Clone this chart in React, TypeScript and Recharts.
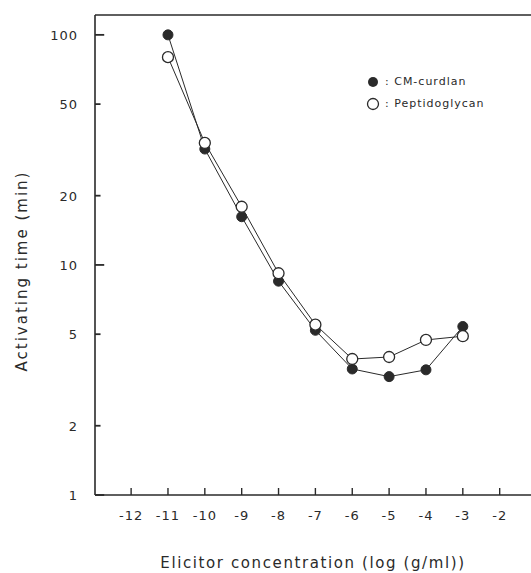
import { LineChart, Line, XAxis, YAxis, ReferenceLine, Legend, Label } from "recharts";

const concentrations = [-11, -10, -9, -8, -7, -6, -5, -4, -3];
const cmCurdlan = [100, 31.9, 16.2, 8.5, 5.2, 3.53, 3.27, 3.5, 5.4];
const peptidoglycan = [80, 33.9, 17.9, 9.2, 5.5, 3.9, 3.98, 4.72, 4.9];

const xTicks = [-12, -11, -10, -9, -8, -7, -6, -5, -4, -3, -2];
const yTicks = [1, 2, 5, 10, 20, 50, 100];
const majorY = [1, 10, 100];

const X_DOMAIN: [number, number] = [-12.98, -1.15];
const Y_DOMAIN: [number, number] = [1, 122];

const INK = "#2a2a2a";
const FONT = "'DejaVu Sans', sans-serif";

const data = concentrations.map((c, i) => ({
  conc: c,
  cm: cmCurdlan[i],
  pg: peptidoglycan[i],
}));

const renderYTick = (props: any) => {
  const { x, y, payload } = props;
  return (
    <text
      key={`yt-${payload.value}`}
      x={x}
      y={y}
      dy={5}
      textAnchor="end"
      fill={INK}
      style={{ fontFamily: FONT, fontSize: 13, letterSpacing: 1 }}
    >
      {payload.value}
    </text>
  );
};

const renderXTick = (props: any) => {
  const { x, y, payload } = props;
  return (
    <text
      key={`xt-${payload.value}`}
      x={x}
      y={Number(y) + 25}
      textAnchor="middle"
      fill={INK}
      style={{ fontFamily: FONT, fontSize: 13, letterSpacing: 1 }}
    >
      {payload.value}
    </text>
  );
};

const renderLegend = () => (
  <div style={{ fontFamily: FONT, fontSize: 11, letterSpacing: 1, color: INK, lineHeight: "22px" }}>
    <div style={{ display: "flex", alignItems: "center" }}>
      <svg width={14} height={14} style={{ marginRight: 5 }}>
        <circle cx={7} cy={7} r={5} fill={INK} />
      </svg>
      <span>: CM-curdlan</span>
    </div>
    <div style={{ display: "flex", alignItems: "center" }}>
      <svg width={14} height={14} style={{ marginRight: 5 }}>
        <circle cx={7} cy={7} r={5.5} fill="#fff" stroke={INK} strokeWidth={1.3} />
      </svg>
      <span>: Peptidoglycan</span>
    </div>
  </div>
);

// inward tick marks, lengths given in data units of each scale
const yTickLen = (v: number) => (majorY.includes(v) ? 0.25 : 0.15);
const xTickTop = Math.pow(10, 7 / 230);

export default function App() {
  return (
    <div style={{ position: "absolute", left: 0, top: 0, background: "#fff" }}>
      <LineChart width={531} height={573} data={data} margin={{ top: 15, right: 0, bottom: 0, left: 0 }}>
        <XAxis
          dataKey="conc"
          type="number"
          domain={X_DOMAIN}
          ticks={xTicks}
          allowDataOverflow
          height={78}
          tickSize={0}
          tickMargin={0}
          tickLine={false}
          tick={renderXTick}
          axisLine={{ stroke: INK, strokeWidth: 1.6 }}
        >
          <Label
            value="Elicitor concentration (log (g/ml))"
            position="insideBottom"
            offset={5}
            style={{ fontFamily: FONT, fontSize: 15, letterSpacing: 1.6, fill: INK }}
          />
        </XAxis>
        <YAxis
          scale="log"
          domain={Y_DOMAIN}
          ticks={yTicks}
          allowDataOverflow
          width={95}
          tickSize={0}
          tickMargin={17}
          tickLine={false}
          tick={renderYTick}
          axisLine={{ stroke: INK, strokeWidth: 1.6 }}
        >
          <Label
            content={() => (
              <text
                x={22}
                y={271}
                transform="rotate(-90 22 271)"
                textAnchor="middle"
                dominantBaseline="central"
                fill={INK}
                style={{ fontFamily: FONT, fontSize: 15, letterSpacing: 2 }}
              >
                Activating time (min)
              </text>
            )}
          />
        </YAxis>
        <ReferenceLine y={Y_DOMAIN[1]} stroke={INK} strokeWidth={1.6} />
        {yTicks.map((v) => (
          <ReferenceLine
            key={`ytl-${v}`}
            segment={[{ x: X_DOMAIN[0], y: v }, { x: X_DOMAIN[0] + yTickLen(v), y: v }]}
            stroke={INK}
            strokeWidth={1.8}
            ifOverflow="visible"
          />
        ))}
        {xTicks.map((v) => (
          <ReferenceLine
            key={`xtl-${v}`}
            segment={[{ x: v, y: Y_DOMAIN[0] }, { x: v, y: xTickTop }]}
            stroke={INK}
            strokeWidth={1.4}
            ifOverflow="visible"
          />
        ))}
        <Legend
          layout="vertical"
          align="center"
          verticalAlign="middle"
          content={renderLegend}
          wrapperStyle={{ left: 366, top: 71, width: "auto" }}
        />
        <Line
          dataKey="cm"
          name="CM-curdlan"
          stroke={INK}
          strokeWidth={1}
          isAnimationActive={false}
          dot={{ r: 5, fill: INK, stroke: INK, strokeWidth: 1 }}
          activeDot={false}
        />
        <Line
          dataKey="pg"
          name="Peptidoglycan"
          stroke={INK}
          strokeWidth={1}
          isAnimationActive={false}
          dot={{ r: 5.5, fill: "#fff", stroke: INK, strokeWidth: 1.3 }}
          activeDot={false}
        />
      </LineChart>
    </div>
  );
}
